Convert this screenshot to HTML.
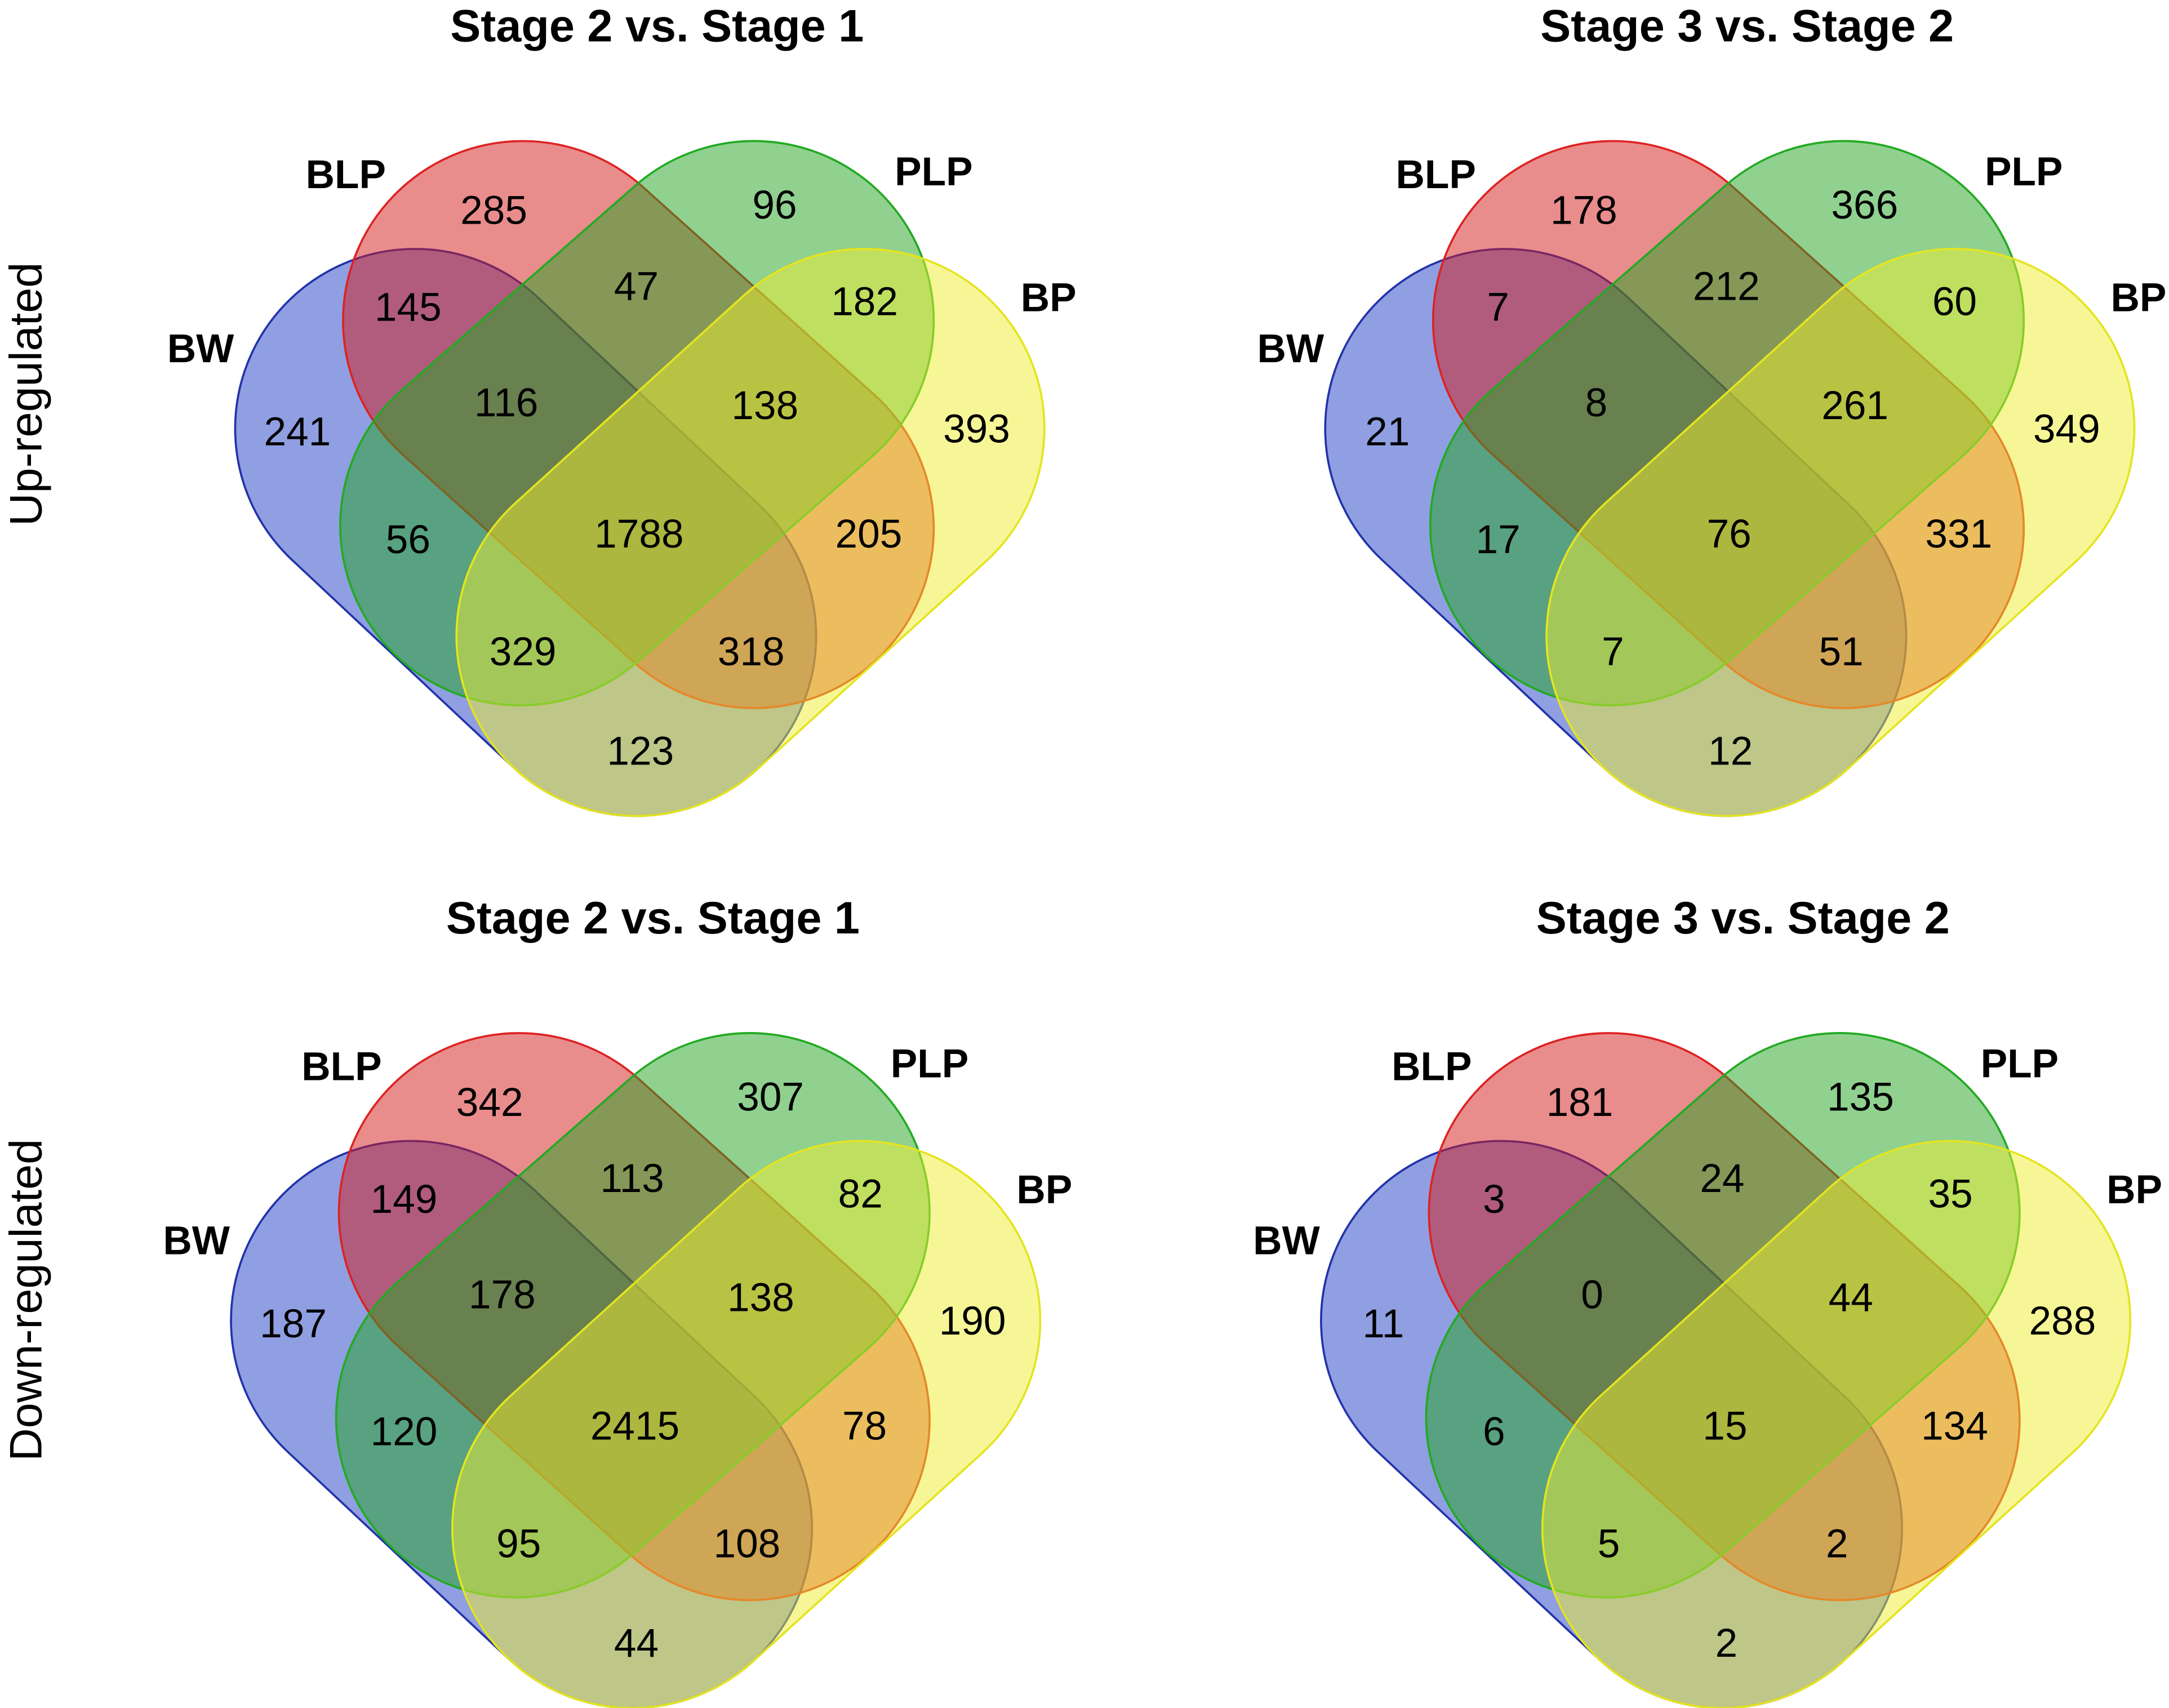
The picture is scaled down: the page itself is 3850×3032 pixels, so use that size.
<!DOCTYPE html>
<html><head><meta charset="utf-8"><style>
html,body{margin:0;padding:0;background:#fff}
svg{display:block}
text{font-family:"Liberation Sans",sans-serif}
</style></head><body>
<svg id="chart" width="3850" height="3032" viewBox="0 0 1568 1235" preserveAspectRatio="none" xmlns="http://www.w3.org/2000/svg"></svg>
<script>
// Data arrays
const setNames = ["BW","BLP","PLP","BP"];
const panelTitles = ["Stage 2 vs. Stage 1","Stage 3 vs. Stage 2","Stage 2 vs. Stage 1","Stage 3 vs. Stage 2"];
const rowLabels = ["Up-regulated","Down-regulated"];
const regionKeys = ["BLP","PLP","BW_BLP","BLP_PLP","PLP_BP","BW","BW_BLP_PLP","BLP_PLP_BP","BP","BW_PLP","ALL","BLP_BP","BW_PLP_BP","BW_BLP_BP","BW_BP"];
const upS2 = [285,96,145,47,182,241,116,138,393,56,1788,205,329,318,123];
const upS3 = [178,366,7,212,60,21,8,261,349,17,76,331,7,51,12];
const downS2 = [342,307,149,113,82,187,178,138,190,120,2415,78,95,108,44];
const downS3 = [181,135,3,24,35,11,0,44,288,6,15,134,5,2,2];
const panelValues = [upS2, upS3, downS2, downS3];

const svg = document.getElementById('chart');
const NS = "http://www.w3.org/2000/svg";
// layout
const offsets = [[0,0],[788,0],[-3,645],[785,645]];
const labelPos = [[357,152],[560,148],[295,222],[460,207],[625,218],[215,312],[366,291],[553,293],[706,310],[295,390],[462,386],[628,386],[378,471],[543,471],[463,543]];
const shapes = [
 {c1:[300,310],c2:[460,460],fill:"#1f3fc4",stroke:"#2233aa"},
 {c1:[378,232],c2:[545,382],fill:"#d41a1a",stroke:"#dd2222"},
 {c1:[545,232],c2:[376,380],fill:"#22a422",stroke:"#22aa22"},
 {c1:[625,310],c2:[460,460],fill:"#eeee30",stroke:"#e4e420"}
];
const namePos = [[145,252],[250,126],[675,124],[758,215]];
const R = 130;
function pill(c1,c2,r,ox,oy){
  const dx=c2[0]-c1[0], dy=c2[1]-c1[1], L=Math.hypot(dx,dy);
  const d=[dx/L,dy/L], n=[-d[1],d[0]];
  const P=(c,a,b)=>((c[0]+ox+a*r).toFixed(2)+" "+(c[1]+oy+b*r).toFixed(2));
  const A=(p)=>` A ${r} ${r} 0 0 0 ${p}`;
  return "M "+P(c1,n[0],n[1])+" L "+P(c2,n[0],n[1])+A(P(c2,d[0],d[1]))+A(P(c2,-n[0],-n[1]))+
    " L "+P(c1,-n[0],-n[1])+A(P(c1,-d[0],-d[1]))+A(P(c1,n[0],n[1]))+" Z";
}
function mk(tag,attrs,txt){const e=document.createElementNS(NS,tag);for(const k in attrs)e.setAttribute(k,attrs[k]);if(txt!==undefined)e.textContent=txt;svg.appendChild(e);return e;}

panelValues.forEach((vals,pi)=>{
  const [ox,oy]=offsets[pi];
  const t=mk('text',{x:475+ox,y:30+oy,'text-anchor':'middle','font-size':33,'font-weight':'bold'},panelTitles[pi]);
  
  
  shapes.forEach((s,si)=>{
    const p=mk('path',{d:pill(s.c1,s.c2,R,ox,oy),fill:s.fill,'fill-opacity':0.5,stroke:s.stroke,'stroke-width':1.5});
    
    
  });
  setNames.forEach((nm,si)=>{
    const e=mk('text',{x:namePos[si][0]+ox,y:namePos[si][1]+oy+10,'text-anchor':'middle','font-size':29,'font-weight':'bold'},nm);
    
    
  });
  vals.forEach((v,ri)=>{
    const e=mk('text',{x:labelPos[ri][0]+ox,y:labelPos[ri][1]+oy+10,'text-anchor':'middle','font-size':29},String(v));
    
    
  });
});
rowLabels.forEach((lab,i)=>{
  const cy = i===0?285:940;
  const e=mk('text',{x:0,y:0,transform:`translate(30 ${cy}) rotate(-90)`,'text-anchor':'middle','font-size':33},lab);
  
  
});
</script>
</body></html>
